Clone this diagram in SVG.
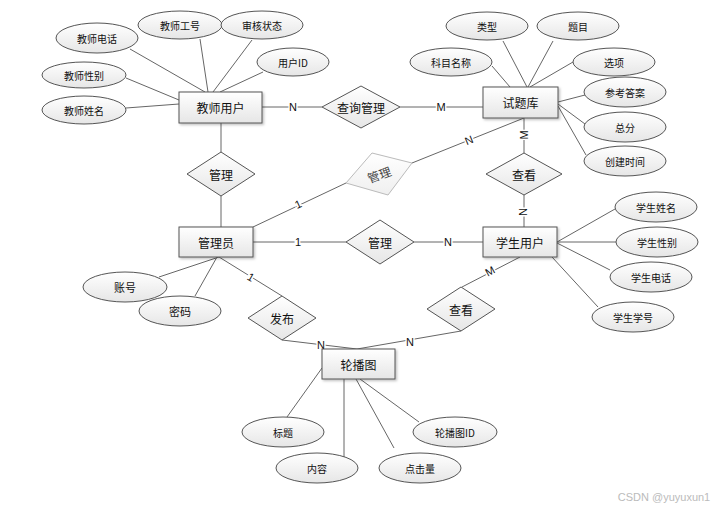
<svg xmlns="http://www.w3.org/2000/svg" width="727" height="510" viewBox="0 0 727 510">
<style>
text{font-family:"Noto Sans CJK SC","Liberation Sans",sans-serif;fill:#111;text-anchor:middle;dominant-baseline:central}
.ent rect{fill:url(#g);stroke:#555;stroke-width:1}
.attr ellipse{fill:url(#g);stroke:#555;stroke-width:1}
.rel polygon{fill:url(#g);stroke:#555;stroke-width:1}
.et{font-size:12px}
.at{font-size:10px}
.rt{font-size:12px}
#edges line,#edges polyline{stroke:#666;stroke-width:1;fill:none}
.lb{font-family:"Liberation Sans",sans-serif;font-size:11px;stroke:#fff;stroke-width:3;paint-order:stroke}
</style>
<defs>
<linearGradient id="g" x1="0" y1="0" x2="0" y2="1"><stop offset="0" stop-color="#ffffff"/><stop offset="1" stop-color="#e6e6e6"/></linearGradient>
<linearGradient id="g2" x1="0" y1="0" x2="0" y2="1"><stop offset="0" stop-color="#ffffff"/><stop offset="1" stop-color="#efefef"/></linearGradient>
<filter id="sh" x="-10%" y="-10%" width="130%" height="140%"><feDropShadow dx="1.5" dy="1.5" stdDeviation="1" flood-color="#000" flood-opacity="0.25"/></filter>
</defs>
<rect width="727" height="510" fill="#fff"/>
<g id="edges">
<line x1="130" y1="49" x2="205" y2="92"/>
<line x1="200" y1="39" x2="208" y2="92"/>
<line x1="252" y1="40" x2="213" y2="92"/>
<line x1="263" y1="72" x2="220" y2="92"/>
<line x1="126" y1="78" x2="179" y2="100"/>
<line x1="126" y1="108" x2="179" y2="104"/>
<line x1="262" y1="107" x2="322" y2="107"/>
<line x1="400" y1="107" x2="483" y2="107"/>
<line x1="503" y1="41" x2="527" y2="87"/>
<line x1="553" y1="41" x2="528" y2="87"/>
<line x1="492" y1="66" x2="510" y2="87"/>
<line x1="573" y1="62" x2="530" y2="87"/>
<line x1="558" y1="102" x2="585" y2="95"/>
<line x1="558" y1="104" x2="585" y2="124"/>
<line x1="558" y1="106" x2="586" y2="155"/>
<line x1="524" y1="118" x2="524" y2="153"/>
<line x1="524" y1="195" x2="524" y2="227"/>
<line x1="221" y1="123" x2="221" y2="152"/>
<line x1="221" y1="196" x2="221" y2="227"/>
<line x1="253" y1="227" x2="346" y2="183"/>
<line x1="412" y1="163" x2="524" y2="118"/>
<line x1="253" y1="242" x2="346" y2="242"/>
<line x1="414" y1="242" x2="483" y2="242"/>
<line x1="615" y1="209" x2="557" y2="242"/>
<line x1="557" y1="242" x2="616" y2="242"/>
<line x1="557" y1="243" x2="610" y2="270"/>
<line x1="552" y1="257" x2="598" y2="307"/>
<line x1="159" y1="277" x2="219" y2="257"/>
<line x1="195" y1="296" x2="217" y2="257"/>
<line x1="219" y1="257" x2="282" y2="296"/>
<line x1="282" y1="340" x2="357" y2="349"/>
<line x1="520" y1="257" x2="462" y2="287"/>
<line x1="461" y1="331" x2="357" y2="349"/>
<line x1="287" y1="417" x2="322" y2="368"/>
<line x1="344" y1="379" x2="344" y2="457"/>
<line x1="356" y1="379" x2="394" y2="448"/>
<line x1="360" y1="379" x2="419" y2="422"/>
<text class="lb" x="293" y="107">N</text>
<text class="lb" x="441" y="107">M</text>
<text class="lb" transform="translate(524,135) rotate(-90)">M</text>
<text class="lb" transform="translate(523,212) rotate(90)">N</text>
<text class="lb" transform="translate(469,140) rotate(-22)">N</text>
<text class="lb" transform="translate(298,204) rotate(-25)">1</text>
<text class="lb" x="298" y="242">1</text>
<text class="lb" x="448" y="242">N</text>
<text class="lb" transform="translate(251,277) rotate(30)">1</text>
<text class="lb" x="321" y="345">N</text>
<text class="lb" transform="translate(490,271) rotate(-28)">M</text>
<text class="lb" x="410" y="342">N</text>
</g>
<g id="teacher" class="ent"><rect x="179" y="92" width="83" height="31" filter="url(#sh)"/><text class="et" x="220.5" y="107.5">教师用户</text></g>
<g id="tiku" class="ent"><rect x="483" y="87" width="75" height="31" filter="url(#sh)"/><text class="et" x="520.5" y="102.5">试题库</text></g>
<g id="admin" class="ent"><rect x="179" y="227" width="74" height="30" filter="url(#sh)"/><text class="et" x="216" y="242">管理员</text></g>
<g id="student" class="ent"><rect x="483" y="227" width="74" height="30" filter="url(#sh)"/><text class="et" x="520" y="242">学生用户</text></g>
<g id="banner" class="ent"><rect x="322" y="349" width="73" height="30" filter="url(#sh)"/><text class="et" x="358.5" y="364">轮播图</text></g>
<g id="r-query" class="rel"><polygon points="322,107 361,86 400,107 361,128"/><text class="rt" x="361" y="107">查询管理</text></g>
<g id="r-view1" class="rel"><polygon points="486,174 524,153 562,174 524,195"/><text class="rt" x="524" y="174">查看</text></g>
<g id="r-manage1" class="rel"><polygon points="187,174 221,152 255,174 221,196"/><text class="rt" x="221" y="174">管理</text></g>
<g id="r-manage2" class="rel"><polygon points="346,183 372,153 412,163 388,195" style="fill:url(#g2);stroke:#bbb"/><text class="rt" transform="translate(379,174) rotate(-20)" style="fill:#444">管理</text></g>
<g id="r-manage3" class="rel"><polygon points="346,242 380,220 414,242 380,264"/><text class="rt" x="380" y="242">管理</text></g>
<g id="r-publish" class="rel"><polygon points="248,318 282,296 316,318 282,340"/><text class="rt" x="282" y="318">发布</text></g>
<g id="r-view2" class="rel"><polygon points="427,309 461,287 495,309 461,331"/><text class="rt" x="461" y="309">查看</text></g>
<g id="a-tphone" class="attr"><ellipse cx="97" cy="38" rx="41" ry="15"/><text class="at" x="97" y="38">教师电话</text></g>
<g id="a-tno" class="attr"><ellipse cx="180" cy="25" rx="42" ry="14"/><text class="at" x="180" y="25">教师工号</text></g>
<g id="a-tstatus" class="attr"><ellipse cx="262" cy="25" rx="41" ry="14"/><text class="at" x="262" y="25">审核状态</text></g>
<g id="a-tuid" class="attr"><ellipse cx="293" cy="62" rx="36" ry="14"/><text class="at" x="293" y="62">用户ID</text></g>
<g id="a-tsex" class="attr"><ellipse cx="84" cy="75" rx="42" ry="13"/><text class="at" x="84" y="75">教师性别</text></g>
<g id="a-tname" class="attr"><ellipse cx="84" cy="110" rx="42" ry="14"/><text class="at" x="84" y="110">教师姓名</text></g>
<g id="a-type" class="attr"><ellipse cx="487" cy="26" rx="41" ry="14"/><text class="at" x="487" y="26">类型</text></g>
<g id="a-title" class="attr"><ellipse cx="578" cy="26" rx="41" ry="14"/><text class="at" x="578" y="26">题目</text></g>
<g id="a-subject" class="attr"><ellipse cx="451" cy="62" rx="41" ry="14"/><text class="at" x="451" y="62">科目名称</text></g>
<g id="a-option" class="attr"><ellipse cx="614" cy="62" rx="41" ry="14"/><text class="at" x="614" y="62">选项</text></g>
<g id="a-answer" class="attr"><ellipse cx="625" cy="92" rx="41" ry="15"/><text class="at" x="625" y="92">参考答案</text></g>
<g id="a-score" class="attr"><ellipse cx="625" cy="127" rx="41" ry="15"/><text class="at" x="625" y="127">总分</text></g>
<g id="a-ctime" class="attr"><ellipse cx="625" cy="161" rx="41" ry="15"/><text class="at" x="625" y="161">创建时间</text></g>
<g id="a-sname" class="attr"><ellipse cx="656" cy="207" rx="41" ry="15"/><text class="at" x="656" y="207">学生姓名</text></g>
<g id="a-ssex" class="attr"><ellipse cx="657" cy="242" rx="41" ry="15"/><text class="at" x="657" y="242">学生性别</text></g>
<g id="a-sphone" class="attr"><ellipse cx="651" cy="277" rx="41" ry="15"/><text class="at" x="651" y="277">学生电话</text></g>
<g id="a-sno" class="attr"><ellipse cx="633" cy="317" rx="41" ry="15"/><text class="at" x="633" y="317">学生学号</text></g>
<g id="a-account" class="attr"><ellipse cx="125" cy="287" rx="42" ry="15"/><text class="at" x="125" y="287" style="font-size:11px">账号</text></g>
<g id="a-pwd" class="attr"><ellipse cx="180" cy="311" rx="41" ry="15"/><text class="at" x="180" y="311" style="font-size:11px">密码</text></g>
<g id="a-btitle" class="attr"><ellipse cx="283" cy="432" rx="41" ry="15"/><text class="at" x="283" y="432">标题</text></g>
<g id="a-bcontent" class="attr"><ellipse cx="317" cy="468" rx="41" ry="15"/><text class="at" x="317" y="468">内容</text></g>
<g id="a-bclick" class="attr"><ellipse cx="420" cy="468" rx="41" ry="15"/><text class="at" x="420" y="468">点击量</text></g>
<g id="a-bid" class="attr"><ellipse cx="455" cy="432" rx="42" ry="15"/><text class="at" x="455" y="432">轮播图ID</text></g>
<text x="664" y="497" style="font-family:'Liberation Sans',sans-serif;font-size:11px;fill:#bbb">CSDN @yuyuxun1</text>
</svg>
